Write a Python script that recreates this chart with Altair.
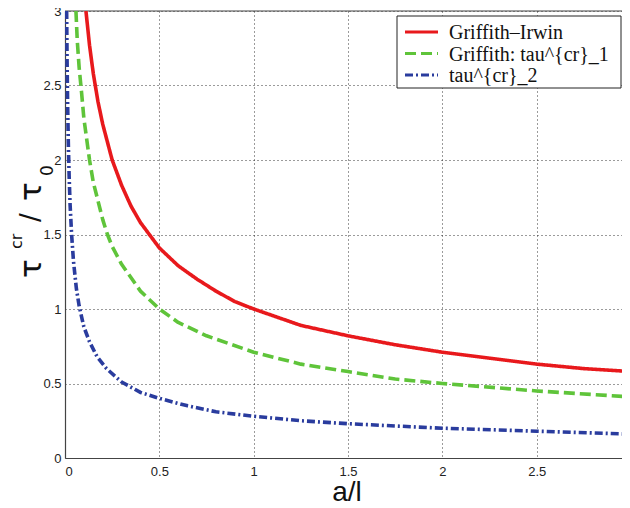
import altair as alt
import pandas as pd

# ---- data ----
names = ["Griffith\u2013Irwin", "Griffith:  tau^{cr}_1", "tau^{cr}_2"]

x_red = [0.111, 0.13, 0.15, 0.175, 0.2, 0.25, 0.3, 0.35, 0.4, 0.5, 0.6, 0.7, 0.8, 0.9,
         1.0, 1.25, 1.5, 1.75, 2.0, 2.25, 2.5, 2.75, 3.0]
y_red = [3.0, 2.77, 2.58, 2.39, 2.24, 2.0, 1.83, 1.69, 1.58, 1.41, 1.29, 1.2, 1.12, 1.05,
         1.0, 0.89, 0.82, 0.76, 0.71, 0.67, 0.63, 0.6, 0.58]

x_green = [0.058, 0.065, 0.075, 0.088, 0.1, 0.13, 0.15, 0.2, 0.225, 0.25, 0.3, 0.4, 0.5, 0.6,
           0.75, 1.0, 1.25, 1.5, 1.75, 2.0, 2.5, 3.0]
y_green = [3.0, 2.8, 2.62, 2.45, 2.28, 2.0, 1.85, 1.6, 1.5, 1.42, 1.3, 1.12, 1.0, 0.91,
           0.82, 0.71, 0.63, 0.58, 0.53, 0.5, 0.45, 0.41]

x_blue = [0.0087, 0.011, 0.014, 0.018, 0.022, 0.027, 0.035, 0.045, 0.06, 0.075, 0.1, 0.13,
          0.17, 0.22, 0.3, 0.4, 0.5, 0.65, 0.8, 1.0, 1.25, 1.5, 2.0, 2.5, 3.0]
y_blue = [3.0, 2.67, 2.37, 2.09, 1.89, 1.7, 1.5, 1.32, 1.14, 1.02, 0.88, 0.78,
          0.68, 0.6, 0.51, 0.44, 0.4, 0.35, 0.31, 0.28, 0.25, 0.23, 0.2, 0.18, 0.16]

x_ticks = [0, 0.5, 1, 1.5, 2, 2.5, 3]
y_ticks = [0, 0.5, 1, 1.5, 2, 2.5, 3]
x_visible_max = 2.952  # the reference picture is cut just before x = 3

colors = ["#e8191c", "#5fc43a", "#2a3c9e"]
dashes = [[1, 0], [11, 5], [8, 3, 2, 3]]

rows = []
for n, xs, ys in zip(names, [x_red, x_green, x_blue], [y_red, y_green, y_blue]):
    for i, (a, b) in enumerate(zip(xs, ys)):
        rows.append({"series": n, "x": a, "y": b, "order": i})
df = pd.DataFrame(rows)

W, H = 557, 447
one = pd.DataFrame({"k": [0]})

lines = alt.Chart(df).mark_line(strokeWidth=3.6, clip=True, strokeCap="butt", strokeJoin="round").encode(
    x=alt.X("x:Q", scale=alt.Scale(domain=[0, x_visible_max], nice=False, zero=False),
            axis=alt.Axis(values=x_ticks, title=None, format="~g")),
    y=alt.Y("y:Q", scale=alt.Scale(domain=[0, 3], nice=False),
            axis=alt.Axis(values=y_ticks, title=None, format="~g")),
    color=alt.Color("series:N", scale=alt.Scale(domain=names, range=colors), legend=None),
    strokeDash=alt.StrokeDash("series:N", scale=alt.Scale(domain=names, range=dashes), legend=None),
    order="order:Q",
)

top_border = alt.Chart(one).mark_rule(color="#444", strokeWidth=1.2).encode(
    x=alt.value(0), x2=alt.value(W), y=alt.value(0)
)

# ---- legend box (matlab style) ----
legend_layers = [
    alt.Chart(one).mark_rect(fill="white", stroke="#222", strokeWidth=1).encode(
        x=alt.value(332), x2=alt.value(556), y=alt.value(5), y2=alt.value(77)
    )
]
row_y = [21, 42.5, 64]
for n, c, d, ry in zip(names, colors, dashes, row_y):
    legend_layers.append(
        alt.Chart(one).mark_rule(color=c, strokeDash=d, strokeWidth=3, strokeCap="butt").encode(
            x=alt.value(340), x2=alt.value(373), y=alt.value(ry)
        )
    )
    legend_layers.append(
        alt.Chart(pd.DataFrame({"t": [n]})).mark_text(
            align="left", baseline="middle", fontSize=20, color="#111",
            font="Liberation Serif, Times New Roman, serif"
        ).encode(text="t:N", x=alt.value(384), y=alt.value(ry + 1))
    )

def piece(txt, x, y, size):
    return alt.Chart(pd.DataFrame({"t": [txt]})).mark_text(
        angle=270, align="left", baseline="alphabetic", fontSize=size,
        font="DejaVu Sans", color="#111"
    ).encode(text="t:N", x=alt.value(x), y=alt.value(y))

ytitle = [
    piece("\u03c4", -24, 267, 31),
    piece("cr", -43, 238, 16),
    piece("/", -26, 211, 26),
    piece("\u03c4", -24, 190, 31),
    piece("0", -12, 165, 17),
]

xtitle = alt.Chart(pd.DataFrame({"t": ["a/l"]})).mark_text(
    align="center", baseline="alphabetic", fontSize=28, font="Liberation Sans", color="#111"
).encode(text="t:N", x=alt.value(282), y=alt.value(490))

chart = alt.layer(top_border, lines, *legend_layers, *ytitle, xtitle).properties(
    width=W, height=H,
    autosize=alt.AutoSizeParams(type="none"),
    padding={"left": 57, "top": 3, "right": 0, "bottom": 48},
).configure_view(
    stroke=None
).configure_axis(
    grid=True, gridColor="#222", gridDash=[1, 3], gridWidth=1, gridOpacity=0.9,
    ticks=False, domainColor="#444", domainWidth=1.2,
    labelFont="Liberation Sans", labelFontSize=13, labelColor="#222",
).configure_axisX(
    labelPadding=7
).configure_axisY(
    labelPadding=4
)

chart.save("out.html", embed_options={"renderer": "svg", "actions": False})
